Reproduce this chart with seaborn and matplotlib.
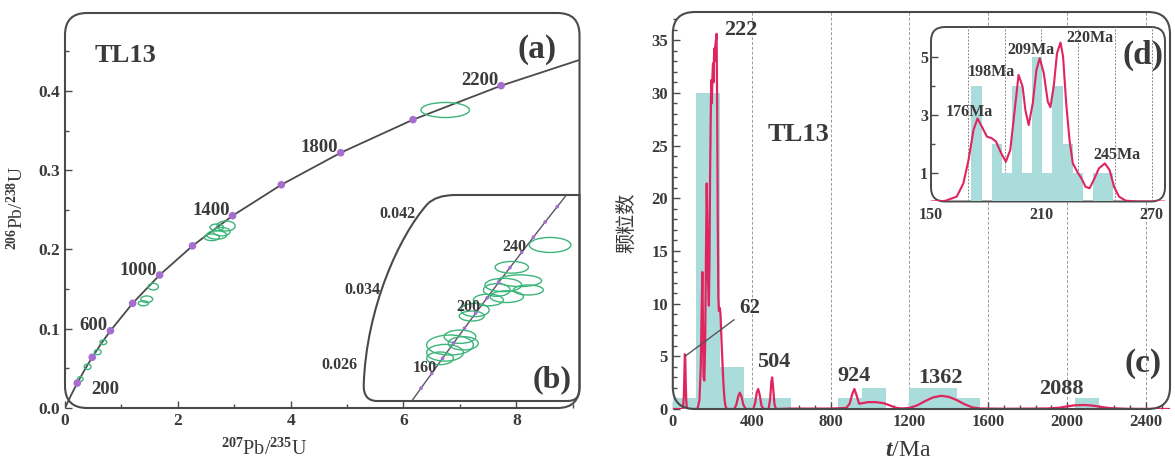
import matplotlib
matplotlib.use("Agg")
import matplotlib.pyplot as plt
import numpy as np
import pandas as pd
import seaborn as sns
from matplotlib.patches import Ellipse, FancyBboxPatch, PathPatch
from matplotlib.path import Path
from matplotlib.ticker import MultipleLocator, FixedLocator, FormatStrFormatter

# ---------------- data ----------------
# (a) concordia reference points: age (Ma), 207Pb/235U, 206Pb/238U
conc_age = [0, 100, 200, 300, 400, 500, 600, 800, 1000, 1200, 1400, 1600, 1800, 2000, 2200, 2400]
conc_x = [0.0, 0.1035, 0.2177, 0.3437, 0.4828, 0.6362, 0.8056, 1.1987, 1.6774, 2.2603,
          2.9700, 3.8345, 4.8870, 6.1687, 7.7300, 9.6300]
conc_y = [0.0, 0.0156, 0.0315, 0.0476, 0.0640, 0.0807, 0.0975, 0.1321, 0.1678, 0.2046,
          0.2426, 0.2817, 0.3221, 0.3638, 0.4067, 0.4511]
dot_ages = [200, 400, 600, 800, 1000, 1200, 1400, 1600, 1800, 2000, 2200]
lab_ages = [200, 600, 1000, 1400, 1800, 2200]

# (a) analysis ellipses: centre x, centre y, width, height
a_ell_x = [0.27, 0.40, 0.58, 0.68, 1.389, 1.448, 1.566, 2.601, 2.690, 2.690, 2.778, 2.855, 6.74]
a_ell_y = [0.0365, 0.052, 0.0705, 0.083, 0.1321, 0.1372, 0.1531, 0.2154, 0.2183, 0.2280, 0.2225, 0.2297, 0.376]
a_ell_w = [0.10, 0.12, 0.12, 0.12, 0.18, 0.21, 0.18, 0.27, 0.355, 0.24, 0.30, 0.325, 0.86]
a_ell_h = [0.006, 0.007, 0.0065, 0.006, 0.0063, 0.0084, 0.0084, 0.0084, 0.0105, 0.0084, 0.0105, 0.0126, 0.019]

# (b) zoomed concordia
zoom_age = [120, 140, 150, 160, 170, 180, 190, 200, 210, 220, 230, 240, 250, 260, 270, 280]
zoom_x = [0.1255, 0.1478, 0.1592, 0.1707, 0.1823, 0.1940, 0.2058, 0.2177, 0.2298, 0.2419,
          0.2542, 0.2667, 0.2792, 0.2918, 0.3046, 0.3175]
zoom_y = [0.01879, 0.02196, 0.02354, 0.02511, 0.02672, 0.02832, 0.02991, 0.03151, 0.03311,
          0.03472, 0.03632, 0.03793, 0.03954, 0.04116, 0.04277, 0.04439]
zoom_dot_ages = [150, 160, 170, 180, 190, 200, 210, 220, 230, 240, 250, 260, 270]
zoom_lab_ages = [160, 200, 240]

b_ell_x = [0.2970, 0.2561, 0.2649, 0.2471, 0.2738, 0.2401, 0.2507, 0.2311, 0.2169, 0.2134,
           0.2009, 0.1902, 0.1849, 0.2044, 0.1796]
b_ell_y = [0.03872, 0.03635, 0.03493, 0.03448, 0.03395, 0.03395, 0.03324, 0.03289, 0.03183,
           0.03119, 0.02900, 0.02812, 0.02730, 0.02830, 0.02671]
b_ell_w = [0.0445, 0.0356, 0.0462, 0.0392, 0.0320, 0.0285, 0.0356, 0.0320, 0.0302, 0.0267,
           0.0338, 0.0498, 0.0392, 0.0320, 0.0285]
b_ell_h = [0.00159, 0.00124, 0.00124, 0.00141, 0.00106, 0.00134, 0.00124, 0.00124, 0.00141,
           0.00106, 0.00141, 0.00212, 0.00177, 0.00141, 0.00134]
b_ticks = [0.042, 0.034, 0.026]

# (c) histogram (120 Ma bins) and probability curve
c_edges = [0, 120, 240, 360, 480, 600, 720, 840, 960, 1080, 1200, 1320, 1440, 1560,
           1680, 1800, 1920, 2040, 2160]
c_counts = [1, 30, 4, 1, 1, 0, 0, 1, 2, 0, 2, 2, 1, 0, 0, 0, 0, 1]
pdf_t = [0, 45, 52, 56, 59, 61, 63, 65, 68, 72,
         125, 135, 142, 146, 150, 153, 156, 160, 164, 168,
         172, 175, 179, 183, 186, 189, 192, 195, 198, 201,
         204, 207, 210, 213, 216, 219, 222, 225, 228, 231,
         234, 238, 242, 246, 250, 254, 258, 263, 268, 275,
         312, 322, 332, 340, 348, 358, 370,
         408, 418, 426, 433, 440, 450, 462,
         486, 494, 500, 504, 509, 516, 524,
         600, 700, 800, 880,
         897, 910, 921, 932, 945, 960, 990, 1030, 1070, 1100,
         1130, 1160, 1200, 1240, 1280, 1320, 1362, 1400, 1440, 1480,
         1520, 1560, 1700, 1900, 1960, 2000, 2040, 2088, 2130, 2170,
         2220, 2300, 2520]
pdf_v = [0, 0, 0.1, 1.2, 3.5, 5.2, 5.0, 3.0, 0.8, 0,
         0, 0.8, 4.0, 9.0, 13.0, 8.0, 3.0, 2.7, 6.0, 14.0,
         21.4, 18.0, 12.0, 9.8, 14.0, 22.0, 27.0, 31.2, 29.0, 31.5,
         32.8, 31.0, 34.2, 33.0, 34.5, 35.0, 35.6, 29.0, 18.0, 10.5,
         9.3, 9.6, 9.0, 7.0, 5.2, 3.5, 2.0, 0.8, 0.2, 0,
         0, 0.4, 1.2, 1.55, 1.2, 0.4, 0,
         0, 0.6, 1.6, 1.9, 1.4, 0.3, 0,
         0, 1.0, 2.6, 3.0, 2.0, 0.4, 0,
         0.04, 0.04, 0.04, 0.1,
         0.5, 1.4, 1.9, 1.3, 0.5, 0.55, 0.65, 0.65, 0.55, 0.35,
         0.12, 0.05, 0.1, 0.35, 0.75, 1.1, 1.25, 1.15, 0.85, 0.45,
         0.15, 0.05, 0.02, 0.05, 0.12, 0.25, 0.35, 0.38, 0.32, 0.2,
         0.08, 0.02, 0]
c_ticks = [0, 400, 800, 1200, 1600, 2000, 2400]
c_peaks = ["222", "504", "924", "1362", "2088"]

# (d) inset histogram (5.5 Ma bins) and curve
d_edges = [172, 177.5, 183, 188.5, 194, 199.5, 205, 210.5, 216, 221.5, 227, 232.5, 238, 243.5, 249]
d_counts = [4, 0, 2, 1, 4, 1, 5, 1, 4, 2, 1, 0, 1, 1]
pdf_d_t = [150, 157.6, 164, 167.6, 170.4, 173.1, 175.3, 177.6, 180.4, 183.1,
           185.3, 188.2, 190.7, 193.1, 195.5, 197.6, 199.8, 201.3, 203.1, 205.3,
           207.3, 209.1, 211.3, 213.5, 214.9, 216.7, 218.5, 220.4, 221.8, 223.5,
           225.3, 227.1, 229.5, 231.8, 234, 236.2, 238.5, 241.3, 244.5, 247.1,
           249.5, 252.2, 255.8, 262, 278]
pdf_d_v = [0, 0.02, 0.17, 0.63, 1.44, 2.48, 2.88, 2.6, 2.25, 2.19,
           2.08, 1.67, 1.38, 1.79, 3.17, 4.39, 3.98, 3.17, 2.65, 3.4,
           4.56, 4.97, 4.45, 3.46, 3.27, 3.98, 5.14, 5.51, 5.02, 3.4,
           2.13, 1.32, 1.03, 0.8, 0.51, 0.46, 0.75, 1.15, 1.32, 1.09,
           0.51, 0.17, 0.03, 0, 0]
d_grid = [170, 190, 210, 230, 250, 270]
d_peaks = ["176Ma", "198Ma", "209Ma", "220Ma", "245Ma"]

# ---------------- style ----------------
sns.set_theme(style="white")
plt.rcParams["font.family"] = ["Liberation Serif", "DejaVu Serif"]
plt.rcParams["font.weight"] = "bold"
plt.rcParams["mathtext.fontset"] = "custom"
plt.rcParams["mathtext.rm"] = "Liberation Serif"
plt.rcParams["mathtext.it"] = "Liberation Serif:italic"

frame_c = "#4a4a4a"
txt_c = "#3a3a3a"
green = "#3cb57a"
purple = "#a56ecf"
red = "#e0245e"
bar_c = "#aadcdb"

W, H = 1175, 461
fig = plt.figure(figsize=(W / 100, H / 100), dpi=100)


def px_axes(left, right, top, bottom):
    return fig.add_axes([left / W, 1 - bottom / H, (right - left) / W, (bottom - top) / H])


def round_box(ax, r, fc="none", z=1, lw=1.5):
    bb = ax.get_position()
    return FancyBboxPatch((bb.x0, bb.y0), bb.width, bb.height,
                          boxstyle=f"round,pad=0,rounding_size={r / W}",
                          mutation_aspect=W / H, transform=fig.transFigure,
                          facecolor=fc, edgecolor=frame_c, lw=lw, zorder=z, clip_on=False)


def base_ticks(ax, size):
    for s in ax.spines.values():
        s.set_visible(False)
    ax.tick_params(which="both", direction="in", bottom=True, left=True, top=False, right=False,
                   color=frame_c, labelcolor=txt_c, labelsize=size, width=1)
    ax.tick_params(which="major", length=5)
    ax.tick_params(which="minor", length=3)


ax_a = px_axes(65, 579.5, 13, 408)
ax_b = px_axes(362, 579.5, 195, 401)
ax_c = px_axes(672.8, 1170, 12, 409)
ax_d = px_axes(931, 1165, 27, 201.5)

# ---------------- (a) concordia ----------------
conc = pd.DataFrame({"age": conc_age, "x": conc_x, "y": conc_y})
sns.lineplot(data=conc, x="x", y="y", ax=ax_a, color=frame_c, lw=1.3, sort=False, estimator=None)
for x, y, w, h in zip(a_ell_x, a_ell_y, a_ell_w, a_ell_h):
    ax_a.add_patch(Ellipse((x, y), w, h, fill=False, ec=green, lw=1.0, zorder=3))
dots = conc[conc["age"].isin(dot_ages)]
sns.scatterplot(data=dots, x="x", y="y", ax=ax_a, color=purple, s=30, edgecolor="none", zorder=4)
for _, r in conc[conc["age"].isin(lab_ages)].iterrows():
    if r["age"] == 200:
        off, ha = (10, -4.5), "left"
    else:
        off, ha = (-2, 3.5), "right"
    ax_a.annotate(f"{int(r['age'])}", (r["x"], r["y"]), xytext=off, textcoords="offset points",
                  ha=ha, va="center", fontsize=13.5, color=txt_c)
ax_a.set_xlim(0, 9.12)
ax_a.set_ylim(0, 0.4984)
base_ticks(ax_a, 12.5)
ax_a.xaxis.set_major_locator(MultipleLocator(2))
ax_a.xaxis.set_minor_locator(MultipleLocator(1))
ax_a.yaxis.set_major_locator(MultipleLocator(0.1))
ax_a.yaxis.set_minor_locator(MultipleLocator(0.05))
ax_a.xaxis.set_major_formatter(FormatStrFormatter("%d"))
ax_a.yaxis.set_major_formatter(FormatStrFormatter("%.1f"))
ax_a.set_xlabel(r"$^{207}$Pb/$^{235}$U", fontsize=14.5, color=txt_c, fontweight="normal")
ax_a.set_ylabel(r"$^{206}$Pb/$^{238}$U", fontsize=14, color=txt_c, fontweight="normal")
ax_a.xaxis.set_label_coords(0.387, -0.078)
ax_a.yaxis.set_label_coords(-0.074, 0.505)
ax_a.text(1.08, 0.4447, "TL13", fontsize=19, color=txt_c, ha="center", va="center")
ax_a.text(8.36, 0.4529, "(a)", fontsize=24, color=txt_c, ha="center", va="center")
fig.add_artist(round_box(ax_a, 22))

# ---------------- (b) zoomed concordia ----------------
ax_b.patch.set_visible(False)
verts = [(0.43, 1.0), (1.0, 1.0), (1.0, 0.058), (1.0, 0.0), (0.945, 0.0), (0.07, 0.0),
         (0.005, 0.0), (0.008, 0.08), (0.02, 0.45), (0.17, 0.80), (0.30, 0.955),
         (0.34, 1.0), (0.43, 1.0), (0.43, 1.0)]
codes = [Path.MOVETO, Path.LINETO, Path.LINETO, Path.CURVE3, Path.CURVE3, Path.LINETO,
         Path.CURVE3, Path.CURVE3, Path.CURVE4, Path.CURVE4, Path.CURVE4,
         Path.CURVE3, Path.CURVE3, Path.CLOSEPOLY]
box_b = PathPatch(Path(verts, codes), transform=ax_b.transAxes, facecolor="white",
                  edgecolor=frame_c, lw=1.5, zorder=0.5, clip_on=False)
ax_b.add_patch(box_b)
zc = pd.DataFrame({"age": zoom_age, "x": zoom_x, "y": zoom_y})
sns.lineplot(data=zc, x="x", y="y", ax=ax_b, color="#5e5066", lw=1.0, sort=False, estimator=None)
for x, y, w, h in zip(b_ell_x, b_ell_y, b_ell_w, b_ell_h):
    ax_b.add_patch(Ellipse((x, y), w, h, fill=False, ec=green, lw=1.0, zorder=3))
sns.scatterplot(data=zc[zc["age"].isin(zoom_dot_ages)], x="x", y="y", ax=ax_b, color=purple,
                s=7, edgecolor="none", zorder=4)
for _, r in zc[zc["age"].isin(zoom_lab_ages)].iterrows():
    ax_b.annotate(f"{int(r['age'])}", (r["x"], r["y"]), xytext=(-5, 4), textcoords="offset points",
                  ha="center", va="center", fontsize=11.5, color=txt_c, zorder=5)
for xt, yt in zip([0.1529, 0.1155, 0.0910], b_ticks):
    ax_b.text(xt, yt, f"{yt:.3f}", ha="right", va="center", fontsize=11.5, color=txt_c, clip_on=False)
ax_b.text(0.2988, 0.0244, "(b)", fontsize=23, color=txt_c, ha="center", va="center")
ax_b.set_xlim(0.0963, 0.3284)
ax_b.set_ylim(0.02219, 0.04401)
ax_b.set_xticks([])
ax_b.set_yticks([])
for s in ax_b.spines.values():
    s.set_visible(False)
ax_b.set_xlabel("")
ax_b.set_ylabel("")

# ---------------- (c) age histogram ----------------
c_mid = (np.array(c_edges[:-1]) + np.array(c_edges[1:])) / 2
for v in c_ticks[1:]:
    ax_c.axvline(v, color="#9a9a9a", lw=0.7, ls=(0, (3, 2)), zorder=0.5)
sns.histplot(x=c_mid, weights=c_counts, bins=c_edges, ax=ax_c, color=bar_c, alpha=1,
             edgecolor="none", linewidth=0, zorder=1)
sns.lineplot(x=pdf_t, y=pdf_v, ax=ax_c, color=red, lw=1.6, sort=False, estimator=None, zorder=2)
for lab, (px, py) in zip(c_peaks, [(345, 36.0), (513, 4.5), (919, 3.13), (1359, 2.91), (1972, 1.87)]):
    ax_c.text(px, py, lab, fontsize=16, color=txt_c, ha="center", va="center", zorder=3)
ax_c.annotate("62", xy=(62, 5.0), xytext=(392, 9.6), fontsize=15, color=txt_c, ha="center",
              va="center", arrowprops=dict(arrowstyle="-", color="#555555", lw=1.0, shrinkA=2, shrinkB=0))
ax_c.text(638, 26.0, "TL13", fontsize=19, color=txt_c, ha="center", va="center")
ax_c.text(2383, 4.34, "(c)", fontsize=24, color=txt_c, ha="center", va="center")
ax_c.set_xlim(0, 2522)
ax_c.set_ylim(0, 37.67)
base_ticks(ax_c, 12)
ax_c.xaxis.set_major_locator(FixedLocator(c_ticks))
ax_c.xaxis.set_minor_locator(MultipleLocator(80))
ax_c.yaxis.set_major_locator(MultipleLocator(5))
ax_c.yaxis.set_minor_locator(MultipleLocator(1))
ax_c.xaxis.set_major_formatter(FormatStrFormatter("%d"))
ax_c.yaxis.set_major_formatter(FormatStrFormatter("%d"))
ax_c.set_xlabel(r"$t$/Ma", fontsize=17, color=txt_c, fontweight="normal")
ax_c.set_ylabel("颗粒数", fontsize=14.5, color=txt_c, fontweight="normal",
                family=["Noto Sans CJK SC", "DejaVu Sans"])
ax_c.xaxis.set_label_coords(0.473, -0.078)
ax_c.yaxis.set_label_coords(-0.072, 0.468)
fig.add_artist(round_box(ax_c, 22))
ax_c.add_patch(round_box(ax_d, 14, fc="white", z=6, lw=1.4))

# ---------------- (d) inset ----------------
ax_d.patch.set_visible(False)
d_mid = (np.array(d_edges[:-1]) + np.array(d_edges[1:])) / 2
for v in d_grid:
    ax_d.axvline(v, color="#8a8a8a", lw=0.7, ls=(0, (2, 1.5)), zorder=0.5)
sns.histplot(x=d_mid, weights=d_counts, bins=d_edges, ax=ax_d, color=bar_c, alpha=1,
             edgecolor="none", linewidth=0, zorder=1)
sns.lineplot(x=pdf_d_t, y=pdf_d_v, ax=ax_d, color=red, lw=1.5, sort=False, estimator=None, zorder=2)
for lab, (px, py) in zip(d_peaks, [(171, 3.1), (183, 4.5), (204.5, 5.25), (236.5, 5.66), (251, 1.61)]):
    ax_d.text(px, py, lab, fontsize=11.5, color=txt_c, ha="center", va="center", zorder=3)
ax_d.text(265.5, 5.05, "(d)", fontsize=24, color=txt_c, ha="center", va="center")
ax_d.set_xlim(150, 277.2)
ax_d.set_ylim(0, 6.05)
base_ticks(ax_d, 11.5)
ax_d.xaxis.set_major_locator(FixedLocator([150, 210, 270]))
ax_d.yaxis.set_major_locator(FixedLocator([1, 3, 5]))
ax_d.yaxis.set_minor_locator(FixedLocator([2, 4]))
ax_d.tick_params(axis="x", which="both", length=0, pad=4)
ax_d.tick_params(axis="y", pad=2)
ax_d.set_xlabel("")
ax_d.set_ylabel("")

fig.savefig("out.png", dpi=100)
